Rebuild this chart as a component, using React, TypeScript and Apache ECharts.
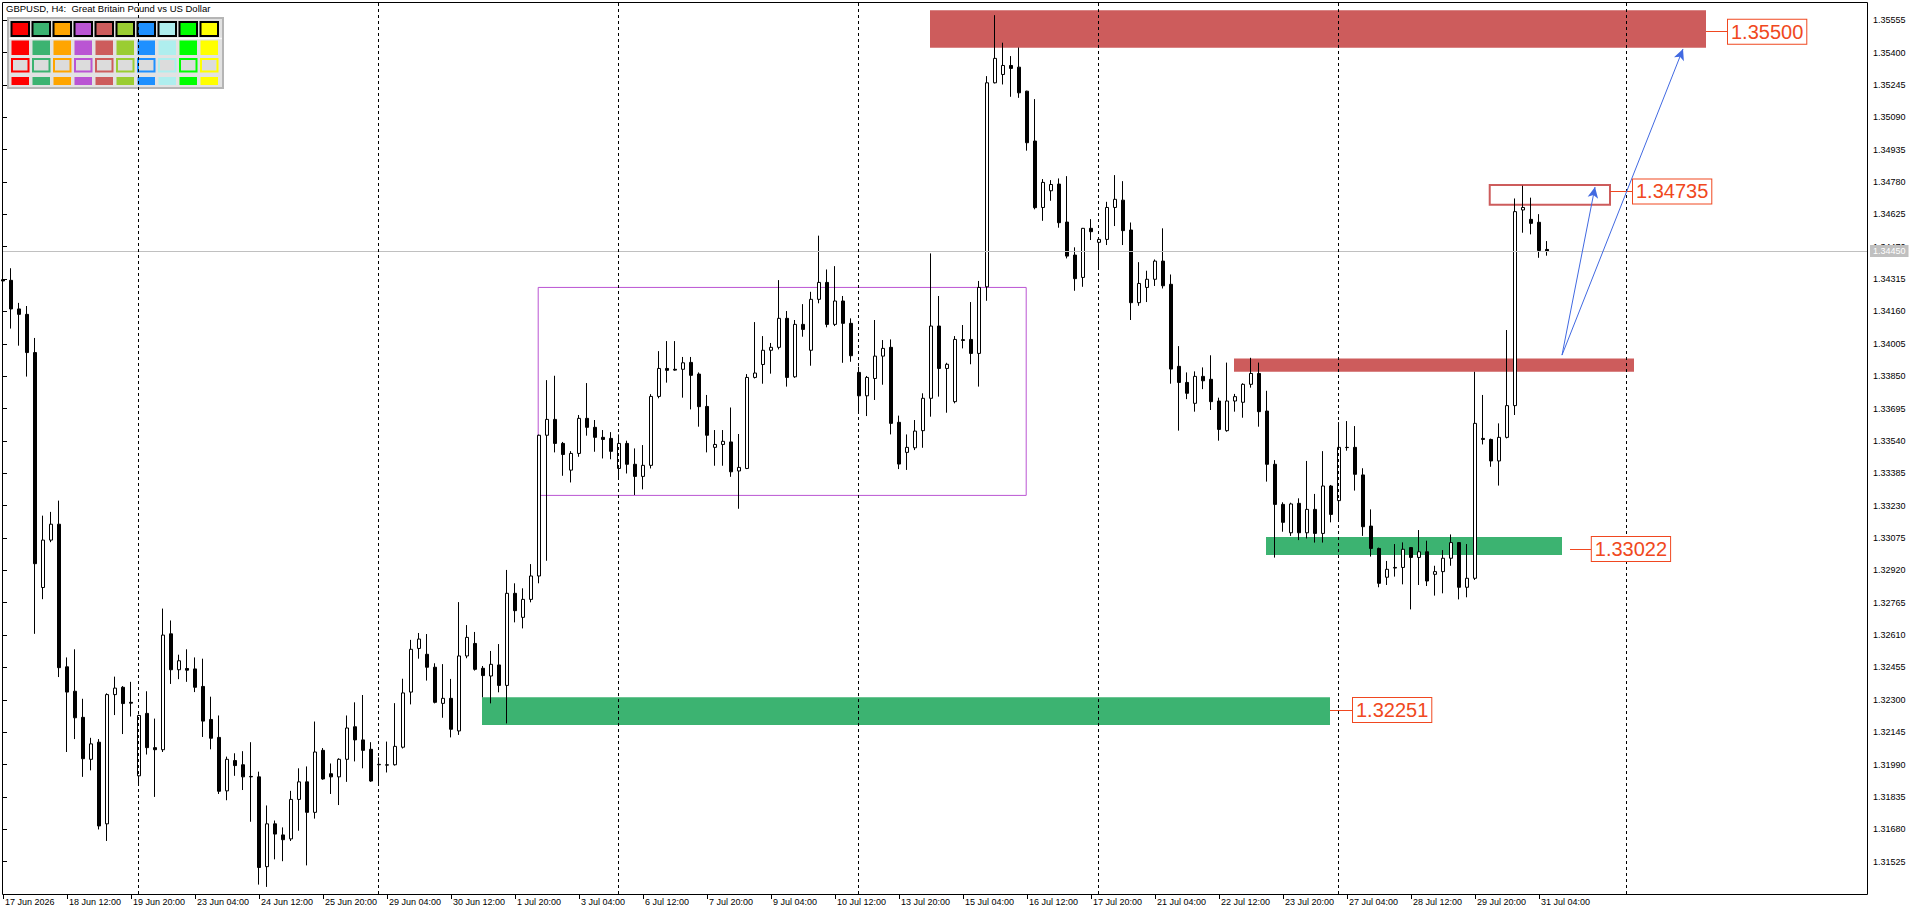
import React, { useEffect, useRef } from "react";
import * as echarts from "echarts";

const FONT = "'Liberation Sans', Arial, sans-serif";

const X_LABELS = [
  "17 Jun 2026", "18 Jun 12:00", "19 Jun 20:00", "23 Jun 04:00", "24 Jun 12:00",
  "25 Jun 20:00", "29 Jun 04:00", "30 Jun 12:00", "1 Jul 20:00", "3 Jul 04:00",
  "6 Jul 12:00", "7 Jul 20:00", "9 Jul 04:00", "10 Jul 12:00", "13 Jul 20:00",
  "15 Jul 04:00", "16 Jul 12:00", "17 Jul 20:00", "21 Jul 04:00", "22 Jul 12:00",
  "23 Jul 20:00", "27 Jul 04:00", "28 Jul 12:00", "29 Jul 20:00", "31 Jul 04:00",
];
const BARS_PER_LABEL = 8;

const Y_TICKS = [
  1.35555, 1.354, 1.35245, 1.3509, 1.34935, 1.3478, 1.34625, 1.3447, 1.34315,
  1.3416, 1.34005, 1.3385, 1.33695, 1.3354, 1.33385, 1.3323, 1.33075, 1.3292,
  1.32765, 1.3261, 1.32455, 1.323, 1.32145, 1.3199, 1.31835, 1.3168, 1.31525,
];

const OPEN = [
  1.34312, 1.34309, 1.34172, 1.34146, 1.33963, 1.32838, 1.33065, 1.33141, 1.32458, 1.32341,
  1.32216, 1.32015, 1.32097, 1.31706, 1.32325, 1.3236, 1.32288, 1.31936, 1.32235, 1.32071,
  1.32061, 1.32616, 1.32444, 1.3245, 1.32448, 1.32364, 1.32206, 1.3212, 1.31864, 1.32009,
  1.31989, 1.31933, 1.31931, 1.31501, 1.31706, 1.31653, 1.31634, 1.31823, 1.31907, 1.31761,
  1.32058, 1.31946, 1.31931, 1.32015, 1.32171, 1.32108, 1.32063, 1.31989, 1.31987, 1.31989,
  1.32073, 1.32337, 1.32546, 1.32518, 1.32456, 1.32283, 1.32307, 1.32151, 1.3251, 1.3257,
  1.32451, 1.32414, 1.32467, 1.32369, 1.3281, 1.32695, 1.32781, 1.32893, 1.33567, 1.33643,
  1.33528, 1.334, 1.3348, 1.33648, 1.33605, 1.33557, 1.33552, 1.33408, 1.33528, 1.33428,
  1.3337, 1.33423, 1.33753, 1.33887, 1.33883, 1.33883, 1.33916, 1.3386, 1.33705, 1.33509,
  1.33523, 1.33535, 1.33396, 1.33408, 1.33844, 1.33906, 1.33974, 1.33988, 1.34127, 1.33847,
  1.34098, 1.33974, 1.34218, 1.34299, 1.34098, 1.3421, 1.34103, 1.33868, 1.33756, 1.33839,
  1.33946, 1.33988, 1.33629, 1.33485, 1.33507, 1.33589, 1.33744, 1.3409, 1.33887, 1.33728,
  1.34025, 1.34026, 1.33959, 1.34278, 1.35255, 1.35295, 1.35338, 1.3533, 1.35215, 1.34976,
  1.34658, 1.34738, 1.3477, 1.34588, 1.3443, 1.34323, 1.34558, 1.34491, 1.34505, 1.34658,
  1.34693, 1.3455, 1.34202, 1.34275, 1.34314, 1.34401, 1.3429, 1.33897, 1.3382, 1.3372,
  1.33849, 1.33835, 1.33731, 1.33589, 1.33731, 1.33725, 1.33811, 1.33863, 1.33683, 1.33428,
  1.33236, 1.331, 1.33241, 1.331, 1.33212, 1.33097, 1.33324, 1.33254, 1.33509, 1.33509,
  1.33377, 1.33132, 1.33025, 1.32887, 1.32934, 1.32934, 1.33029, 1.32982, 1.33009, 1.32901,
  1.32914, 1.32978, 1.33053, 1.32839, 1.32882, 1.33552, 1.33547, 1.33444, 1.33557, 1.33709,
  1.34646, 1.34601, 1.34587, 1.34457,
];
const CLOSE = [
  1.34306, 1.34172, 1.34146, 1.33963, 1.32952, 1.33065, 1.33141, 1.32454, 1.32337, 1.32214,
  1.32018, 1.32089, 1.31696, 1.32325, 1.32356, 1.32282, 1.32284, 1.32225, 1.32071, 1.32061,
  1.3261, 1.32444, 1.32487, 1.32442, 1.3236, 1.32198, 1.32116, 1.31862, 1.32015, 1.31985,
  1.31931, 1.31931, 1.31497, 1.31706, 1.31657, 1.3163, 1.31823, 1.31907, 1.31761, 1.3205,
  1.31921, 1.31931, 1.32015, 1.32165, 1.32108, 1.32058, 1.31911, 1.31991, 1.31989, 1.32077,
  1.32333, 1.32542, 1.32591, 1.32456, 1.32288, 1.32307, 1.32159, 1.3251, 1.32599, 1.32446,
  1.32416, 1.3247, 1.32369, 1.3281, 1.32727, 1.32781, 1.32893, 1.33567, 1.33643, 1.33528,
  1.33475, 1.3348, 1.33648, 1.33605, 1.33557, 1.33547, 1.3349, 1.33528, 1.33428, 1.3337,
  1.33423, 1.33753, 1.33887, 1.33878, 1.33879, 1.33914, 1.33854, 1.33704, 1.33567, 1.33523,
  1.33538, 1.33392, 1.33413, 1.33844, 1.33865, 1.33974, 1.33988, 1.34127, 1.33844, 1.34098,
  1.34074, 1.34218, 1.34299, 1.34098, 1.3421, 1.34103, 1.33948, 1.33756, 1.33844, 1.33946,
  1.33983, 1.33624, 1.33429, 1.33509, 1.33587, 1.33744, 1.3409, 1.33887, 1.33907, 1.34026,
  1.34021, 1.33959, 1.34275, 1.35255, 1.35372, 1.35338, 1.35324, 1.35207, 1.34968, 1.34657,
  1.34778, 1.34768, 1.34585, 1.34425, 1.34317, 1.34558, 1.34542, 1.34505, 1.34658, 1.34697,
  1.34547, 1.34202, 1.34294, 1.34314, 1.34401, 1.34283, 1.33884, 1.3382, 1.33768, 1.33849,
  1.33828, 1.33728, 1.33595, 1.33731, 1.33752, 1.33811, 1.33863, 1.3368, 1.33428, 1.33236,
  1.3315, 1.33238, 1.331, 1.33212, 1.33097, 1.33324, 1.33188, 1.33509, 1.33508, 1.3338,
  1.33129, 1.33025, 1.32858, 1.32925, 1.32931, 1.33021, 1.32982, 1.33009, 1.32869, 1.32914,
  1.32978, 1.33053, 1.32839, 1.32882, 1.33624, 1.33547, 1.33444, 1.33557, 1.33709, 1.34638,
  1.34658, 1.34582, 1.34452, 1.3445,
];
const LOW = [
  1.343, 1.34078, 1.33996, 1.33848, 1.32616, 1.32782, 1.33055, 1.32409, 1.3205, 1.32112,
  1.31931, 1.31962, 1.31679, 1.31624, 1.32227, 1.32136, 1.3222, 1.31897, 1.32038, 1.31835,
  1.3205, 1.32376, 1.32399, 1.32386, 1.32337, 1.32122, 1.32063, 1.31849, 1.31819, 1.31936,
  1.31868, 1.31716, 1.31415, 1.31404, 1.31536, 1.31527, 1.31624, 1.31673, 1.31507, 1.31731,
  1.31917, 1.31849, 1.31796, 1.31907, 1.32005, 1.31972, 1.31907, 1.31888, 1.31952, 1.31985,
  1.32067, 1.32278, 1.32497, 1.32392, 1.32283, 1.32214, 1.3212, 1.32132, 1.32499, 1.3244,
  1.32312, 1.32283, 1.32336, 1.32187, 1.32671, 1.32642, 1.32767, 1.32858, 1.32966, 1.33485,
  1.33373, 1.33341, 1.33464, 1.33565, 1.33488, 1.33456, 1.33452, 1.33361, 1.33384, 1.33281,
  1.33308, 1.33408, 1.33744, 1.33819, 1.33876, 1.33747, 1.33691, 1.33608, 1.33485, 1.33421,
  1.33421, 1.33368, 1.33215, 1.33405, 1.33839, 1.33814, 1.33862, 1.33978, 1.338, 1.33842,
  1.34039, 1.339, 1.34199, 1.34084, 1.3409, 1.33914, 1.33919, 1.33675, 1.33659, 1.33736,
  1.33809, 1.33571, 1.33405, 1.33401, 1.33496, 1.33507, 1.33656, 1.33752, 1.33675, 1.3372,
  1.33983, 1.33907, 1.338, 1.34211, 1.35252, 1.35247, 1.35188, 1.35183, 1.3493, 1.34649,
  1.34594, 1.3469, 1.34561, 1.34414, 1.34259, 1.34278, 1.34502, 1.34365, 1.34478, 1.34569,
  1.34478, 1.34119, 1.34187, 1.34205, 1.34282, 1.3427, 1.33814, 1.33589, 1.3374, 1.3368,
  1.33788, 1.33688, 1.33541, 1.33584, 1.3368, 1.33651, 1.33795, 1.33608, 1.33345, 1.32981,
  1.33105, 1.33085, 1.33065, 1.33073, 1.33053, 1.33053, 1.3315, 1.33158, 1.33493, 1.33302,
  1.33085, 1.32986, 1.32839, 1.3285, 1.3289, 1.32853, 1.32733, 1.3285, 1.32845, 1.32799,
  1.3281, 1.32942, 1.32781, 1.32791, 1.32874, 1.33523, 1.33416, 1.33326, 1.33552, 1.33664,
  1.34537, 1.34529, 1.34417, 1.34427,
];
const HIGH = [
  1.3432, 1.34367, 1.34201, 1.34186, 1.34033, 1.33182, 1.332, 1.33254, 1.32503, 1.32542,
  1.32305, 1.32118, 1.32112, 1.32331, 1.32411, 1.32366, 1.32386, 1.32229, 1.32341, 1.3221,
  1.32737, 1.3268, 1.32516, 1.32542, 1.32503, 1.32497, 1.32315, 1.32225, 1.32028, 1.32044,
  1.32054, 1.32097, 1.31956, 1.31794, 1.31722, 1.31689, 1.31864, 1.31972, 1.31981, 1.32196,
  1.32069, 1.31995, 1.3202, 1.32225, 1.32288, 1.32323, 1.32097, 1.32024, 1.321, 1.32284,
  1.32401, 1.32587, 1.3262, 1.32615, 1.32475, 1.32471, 1.324, 1.32768, 1.32658, 1.32625,
  1.32462, 1.32534, 1.32567, 1.32922, 1.32858, 1.32834, 1.3295, 1.3357, 1.33831, 1.33852,
  1.33535, 1.33491, 1.33664, 1.33817, 1.3364, 1.33592, 1.33582, 1.33571, 1.33541, 1.33504,
  1.3352, 1.33764, 1.3397, 1.34018, 1.34018, 1.33942, 1.33942, 1.33868, 1.3376, 1.33592,
  1.33592, 1.337, 1.33573, 1.3386, 1.34109, 1.34042, 1.34009, 1.3431, 1.34162, 1.34119,
  1.34195, 1.34254, 1.34523, 1.34361, 1.34377, 1.34234, 1.34127, 1.33895, 1.33851, 1.34119,
  1.34023, 1.34026, 1.33661, 1.33571, 1.3364, 1.33768, 1.34438, 1.34234, 1.33914, 1.34042,
  1.34095, 1.34205, 1.34306, 1.35287, 1.35579, 1.35447, 1.35383, 1.35424, 1.35217, 1.35177,
  1.34794, 1.34789, 1.34797, 1.34808, 1.34467, 1.3456, 1.34602, 1.34508, 1.34685, 1.34813,
  1.34784, 1.34586, 1.34396, 1.34355, 1.34409, 1.34558, 1.34337, 1.33994, 1.33868, 1.33873,
  1.33892, 1.3395, 1.33747, 1.33915, 1.33765, 1.33816, 1.33938, 1.33915, 1.3378, 1.33448,
  1.33246, 1.33244, 1.33265, 1.33444, 1.33286, 1.33491, 1.33329, 1.3363, 1.33635, 1.33611,
  1.33409, 1.33212, 1.33029, 1.32965, 1.33046, 1.33054, 1.33031, 1.33113, 1.33062, 1.32942,
  1.33017, 1.33092, 1.33054, 1.33046, 1.33871, 1.3376, 1.33551, 1.33624, 1.34071, 1.34701,
  1.34762, 1.34705, 1.34626, 1.34497,
];

// weekly separators, in bar units
const WEEK_SEPARATORS = [16.93, 46.93, 76.93, 106.93, 136.93, 166.93, 202.9];
const CURRENT_PRICE = 1.3445;

// zones: [barFrom, barTo, priceTop, priceBottom]
const RED_ZONES = [
  [115.875, 212.875, 1.35603, 1.35423],
  [153.875, 203.875, 1.33935, 1.33871],
];
const GREEN_ZONES = [
  [157.875, 194.875, 1.3308, 1.32994],
  [59.875, 165.875, 1.32312, 1.32179],
];
const TARGET_BOX = [185.84, 200.875, 1.34765, 1.34671];
const RANGE_BOX = [66.9, 127.9, 1.34275, 1.33279];

const LEVELS = [1.355, 1.34735, 1.33022, 1.32251];
const LEVEL_FROM = [212.875, 200.875, 195.875, 165.875];
const LEVEL_TO = [215.625, 203.75, 198.6, 168.75];

const ARROW_START = [194.875, 1.33951];
const ARROW_ENDS = [
  [199, 1.34756],
  [210, 1.35417],
];

const PALETTE = [
  "#FF0000", "#3CB371", "#FFA500", "#BA55D3", "#CD5C5C",
  "#9ACD32", "#1E90FF", "#AFEEEE", "#00FF00", "#FFFF00",
];

const LABEL_RED = "#F04820";

function buildOption() {
  const candles = OPEN.map((o, i) => [i, o, CLOSE[i], LOW[i], HIGH[i]]);
  const xTickValues = X_LABELS.map((_, k) => k * BARS_PER_LABEL);

  const zoneItems: any[] = [];
  RED_ZONES.forEach(([x0, x1, y0, y1]) =>
    zoneItems.push([
      { xAxis: x0, yAxis: y0, itemStyle: { color: "#CD5C5C", opacity: 1, borderWidth: 0 } },
      { xAxis: x1, yAxis: y1 },
    ])
  );
  GREEN_ZONES.forEach(([x0, x1, y0, y1]) =>
    zoneItems.push([
      { xAxis: x0, yAxis: y0, itemStyle: { color: "#3CB371", opacity: 1, borderWidth: 0 } },
      { xAxis: x1, yAxis: y1 },
    ])
  );
  zoneItems.push([
    {
      xAxis: TARGET_BOX[0], yAxis: TARGET_BOX[2],
      itemStyle: { color: "rgba(0,0,0,0)", borderColor: "#CD5C5C", borderWidth: 2 },
    },
    { xAxis: TARGET_BOX[1], yAxis: TARGET_BOX[3] },
  ]);
  zoneItems.push([
    {
      xAxis: RANGE_BOX[0], yAxis: RANGE_BOX[2],
      itemStyle: { color: "rgba(0,0,0,0)", borderColor: "#BA55D3", borderWidth: 1 },
    },
    { xAxis: RANGE_BOX[1], yAxis: RANGE_BOX[3] },
  ]);

  const connectorItems = LEVELS.map((lv, k) => [
    {
      coord: [LEVEL_FROM[k], lv],
      lineStyle: { color: LABEL_RED, width: 1, type: "solid" },
      label: {
        show: true,
        position: "end",
        distance: 0,
        formatter: lv.toFixed(5),
        color: LABEL_RED,
        fontFamily: FONT,
        fontSize: 20,
        lineHeight: 22,
        backgroundColor: "#ffffff",
        borderColor: LABEL_RED,
        borderWidth: 1,
        padding: [1, 3, 1, 3],
      },
    },
    { coord: [LEVEL_TO[k], lv] },
  ]);

  const arrowItems = ARROW_ENDS.map((end) => [
    { coord: ARROW_START, symbol: "none" },
    { coord: end, symbol: "arrow", symbolSize: [8, 11] },
  ]);

  const graphics: any[] = [];
  // palette panel
  graphics.push({
    type: "rect",
    shape: { x: 8, y: 18, width: 215, height: 70 },
    style: { fill: "#E2E2E2", stroke: "#B5B5B5", lineWidth: 2 },
    z: 1,
  });
  graphics.push({
    type: "line",
    shape: { x1: 9, y1: 38.5, x2: 222, y2: 38.5 },
    style: { stroke: "#FAFAFA", lineWidth: 1.5 },
    z: 1,
  });
  PALETTE.forEach((c, j) => {
    const x = 11.5 + 21 * j;
    graphics.push({
      type: "rect",
      shape: { x, y: 22, width: 17.5, height: 14 },
      style: { fill: c, stroke: "#000", lineWidth: 2 },
      z: 1,
    });
    graphics.push({
      type: "rect",
      shape: { x, y: 40.5, width: 17.5, height: 14.5 },
      style: { fill: c },
      z: 1,
    });
    graphics.push({
      type: "rect",
      shape: { x: x + 0.5, y: 59, width: 16.5, height: 12.5 },
      style: { fill: "#DCDCDC", stroke: c, lineWidth: 2 },
      z: 1,
    });
    graphics.push({
      type: "rect",
      shape: { x, y: 77, width: 17.5, height: 8 },
      style: { fill: c },
      z: 1,
    });
  });
  graphics.push({
    type: "text",
    x: 6,
    y: 3,
    style: {
      text: "GBPUSD, H4:  Great Britain Pound vs US Dollar",
      fill: "#000",
      fontFamily: FONT,
      fontSize: 9.5,
      verticalAlign: "top",
      align: "left",
    },
    z: 1,
  });
  // chart frame
  graphics.push({
    type: "rect",
    shape: { x: 2.5, y: 2.5, width: 1865, height: 892 },
    style: { fill: "none", stroke: "#000", lineWidth: 1 },
    z: 1,
  });

  return {
    animation: false,
    backgroundColor: "#ffffff",
    grid: { left: 3, top: 2, right: 53, bottom: 21, outerBoundsMode: "none", containLabel: false },
    xAxis: {
      type: "value",
      min: 0,
      max: 233,
      position: "bottom",
      axisLine: { show: false },
      splitLine: { show: false },
      axisTick: {
        show: true,
        length: 5,
        customValues: xTickValues,
        lineStyle: { color: "#000", width: 1 },
      },
      axisLabel: {
        customValues: xTickValues,
        formatter: (v: number) => X_LABELS[Math.round(v / BARS_PER_LABEL)] ?? "",
        align: "left",
        margin: 3,
        color: "#000",
        fontFamily: FONT,
        fontSize: 9,
        padding: [0, 0, 0, 2],
      },
    },
    yAxis: {
      type: "value",
      position: "right",
      min: 1.3137,
      max: 1.35642,
      axisLine: { show: false },
      splitLine: { show: false },
      axisTick: {
        show: true,
        length: 4,
        customValues: Y_TICKS,
        lineStyle: { color: "#000", width: 1 },
      },
      axisLabel: {
        customValues: Y_TICKS,
        formatter: (v: number) => v.toFixed(5),
        margin: 6,
        color: "#000",
        fontFamily: FONT,
        fontSize: 9,
      },
    },
    graphic: graphics,
    series: [
      {
        type: "line",
        data: [],
        silent: true,
        z: 1,
        markArea: {
          silent: true,
          label: { show: false },
          emphasis: { disabled: true },
          data: zoneItems,
        },
      },
      {
        type: "line",
        data: [],
        silent: true,
        z: 1,
        markLine: {
          silent: true,
          symbol: "none",
          precision: 5,
          animation: false,
          emphasis: { disabled: true },
          label: { show: false },
          data: [
            {
              yAxis: CURRENT_PRICE,
              lineStyle: { color: "#C0C0C0", width: 1, type: "solid" },
              label: {
                show: true,
                position: "end",
                distance: 3,
                formatter: CURRENT_PRICE.toFixed(5),
                color: "#ffffff",
                backgroundColor: "#C0C0C0",
                fontFamily: FONT,
                fontSize: 9,
                padding: [2, 3, 1, 3],
              },
            },
          ],
        },
      },
      {
        type: "candlestick",
        data: candles,
        encode: { x: 0, y: [1, 2, 3, 4] },
        barWidth: 4,
        z: 3,
        silent: true,
        itemStyle: {
          color: "#ffffff",
          color0: "#000000",
          borderColor: "#000000",
          borderColor0: "#000000",
          borderColorDoji: "#000000",
          borderWidth: 1,
        },
      },
      {
        type: "line",
        data: [],
        silent: true,
        z: 4,
        markLine: {
          silent: true,
          symbol: "none",
          precision: 5,
          animation: false,
          emphasis: { disabled: true },
          label: { show: false },
          lineStyle: { color: "#000", width: 1, type: [3, 3] },
          data: WEEK_SEPARATORS.map((x) => ({ xAxis: x })),
        },
      },
      {
        type: "line",
        data: [],
        silent: true,
        z: 5,
        markLine: {
          silent: true,
          symbol: "none",
          precision: 5,
          animation: false,
          emphasis: { disabled: true },
          label: { show: false },
          data: connectorItems,
        },
      },
      {
        type: "line",
        data: [],
        silent: true,
        z: 5,
        markLine: {
          silent: true,
          symbol: ["none", "arrow"],
          symbolSize: [8, 11],
          precision: 5,
          animation: false,
          emphasis: { disabled: true },
          label: { show: false },
          lineStyle: { color: "#4169E1", width: 1, type: "solid" },
          itemStyle: { color: "#4169E1" },
          data: arrowItems,
        },
      },
    ],
  };
}

export default function App() {
  const ref = useRef<HTMLDivElement>(null);
  useEffect(() => {
    document.body.style.margin = "0";
    if (!ref.current) return;
    const chart = echarts.init(ref.current, null, { renderer: "svg" });
    chart.setOption(buildOption() as any);
    return () => {
      chart.dispose();
    };
  }, []);
  return (
    <div
      ref={ref}
      style={{ position: "fixed", left: 0, top: 0, width: 1920, height: 915, background: "#fff" }}
    />
  );
}
